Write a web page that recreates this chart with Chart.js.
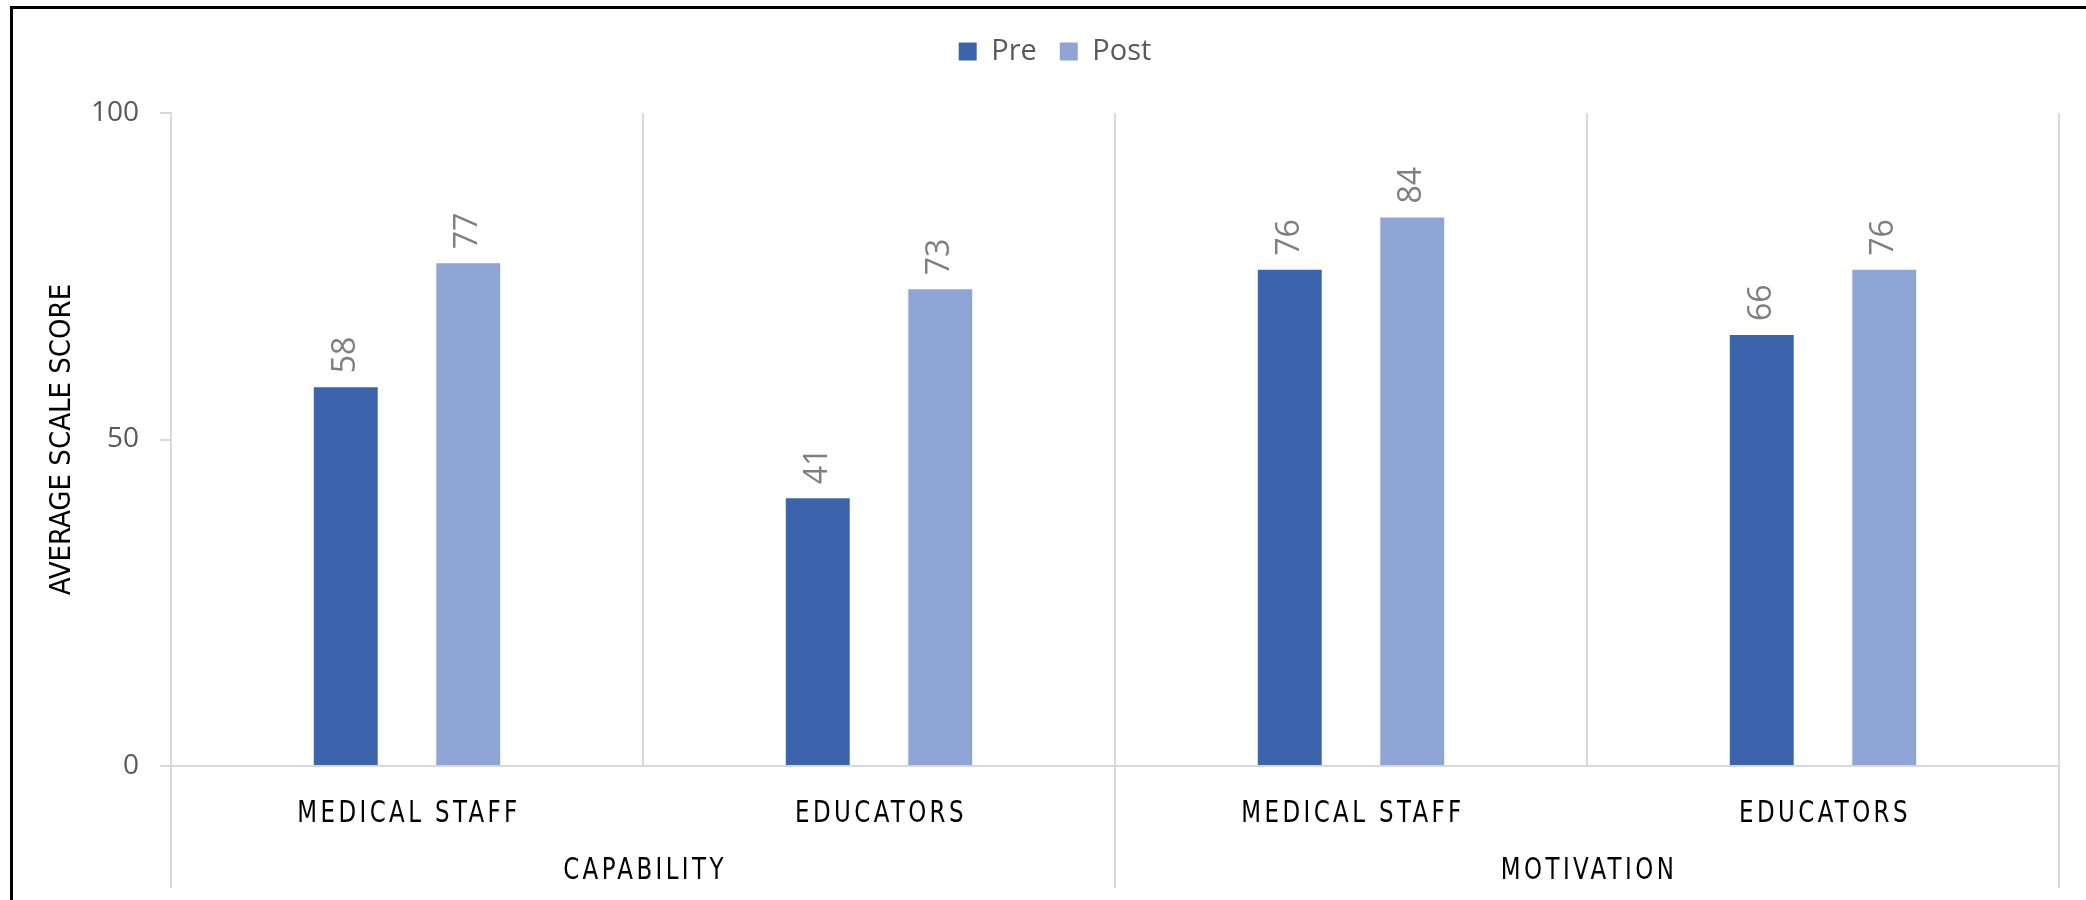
<!DOCTYPE html>
<html>
<head>
<meta charset="utf-8">
<script src="https://cdn.jsdelivr.net/npm/chart.js@4/dist/chart.umd.min.js"></script>
<style>
    html, body { margin: 0; padding: 0; background: #fff; overflow: hidden; }
    #wrap { position: relative; width: 2086px; height: 900px; }
    #frame { position: absolute; left: 10px; top: 6px; width: 2200px; height: 1000px; border: 3px solid #000; box-sizing: border-box; pointer-events: none; }
    canvas { position: absolute; left: 0; top: 0; }
</style>
</head>
<body>
<div id="wrap">
    <canvas id="scoreChart" width="2086" height="900"></canvas>
    <div id="frame"></div>
</div>
<script>
/* Pre / post average scale scores */

const groups = ['CAPABILITY', 'MOTIVATION'];
const groupSizes = [2, 2];
const categories = ['MEDICAL STAFF', 'EDUCATORS', 'MEDICAL STAFF', 'EDUCATORS'];
const preScores = [58, 41, 76, 66];
const postScores = [77, 73, 84, 76];
const yTicks = [0, 50, 100];

const NARROW = '"Liberation Sans Narrow", "DejaVu Sans Condensed", "Open Sans", sans-serif';
const ROUND = '"Open Sans", "Noto Sans", sans-serif';
const GRID = '#d9d9d9';

// extra room between the legend and the plot
const legendGap = {
    id: 'legendGap',
    beforeInit(chart) {
        const fit = chart.legend.fit;
        chart.legend.fit = function () {
            fit.bind(chart.legend)();
            this.height += 37;
        };
    }
};

// value labels written vertically above each bar
const barLabels = {
    id: 'barLabels',
    afterDatasetsDraw(chart) {
        const ctx = chart.ctx;
        ctx.save();
        ctx.font = `32px ${ROUND}`;
        ctx.fillStyle = '#7f7f7f';
        ctx.textAlign = 'left';
        ctx.textBaseline = 'middle';
        chart.data.datasets.forEach((ds, di) => {
            chart.getDatasetMeta(di).data.forEach((bar, i) => {
                ctx.save();
                ctx.translate(bar.x, bar.y - 14);
                ctx.rotate(-Math.PI / 2);
                ctx.fillText(String(ds.data[i]), 0, 0);
                ctx.restore();
            });
        });
        ctx.restore();
    }
};

function narrowText(ctx, text, x, y) {
    ctx.save();
    ctx.translate(x, y);
    ctx.scale(0.85, 1);
    ctx.fillText(text, 0, 0);
    ctx.restore();
}

// category labels, group labels and the long group separators under the axis
const groupAxis = {
    id: 'groupAxis',
    afterDraw(chart) {
        const { ctx, chartArea } = chart;
        const x = chart.scales.x;
        const half = (x.getPixelForValue(1) - x.getPixelForValue(0)) / 2;
        const bottom = chartArea.bottom;

        ctx.save();
        ctx.fillStyle = '#000';
        ctx.textAlign = 'center';
        ctx.textBaseline = 'middle';
        ctx.font = `30px ${NARROW}`;
        ctx.letterSpacing = '4px';
        categories.forEach((c, i) => {
            narrowText(ctx, c, x.getPixelForValue(i) + 2, bottom + 48);
        });

        ctx.strokeStyle = GRID;
        ctx.lineWidth = 2;
        let start = 0;
        groups.forEach((g, gi) => {
            const left = x.getPixelForValue(start) - half;
            const right = x.getPixelForValue(start + groupSizes[gi] - 1) + half;
            narrowText(ctx, g, (left + right) / 2 + 2, bottom + 105);
            [left, right].forEach(px => {
                ctx.beginPath();
                ctx.moveTo(px, bottom);
                ctx.lineTo(px, bottom + 122);
                ctx.stroke();
            });
            start += groupSizes[gi];
        });
        ctx.restore();
    }
};

const ctx = document.getElementById('scoreChart').getContext('2d');

new Chart(ctx, {
    type: 'bar',
    data: {
        labels: categories,
        datasets: [
            {
                label: 'Pre',
                data: preScores,
                backgroundColor: '#3b64ad',
                categoryPercentage: 0.519,
                barPercentage: 0.522
            },
            {
                label: 'Post',
                data: postScores,
                backgroundColor: '#8fa5d5',
                categoryPercentage: 0.519,
                barPercentage: 0.522
            }
        ]
    },
    options: {
        responsive: false,
        animation: false,
        devicePixelRatio: 1,
        layout: {
            padding: { left: 51, right: 27, top: 14, bottom: 0 }
        },
        plugins: {
            tooltip: { enabled: false },
            legend: {
                position: 'top',
                labels: {
                    boxWidth: 18,
                    boxHeight: 18,
                    padding: 23,
                    color: '#595959',
                    font: { family: ROUND, size: 29 }
                }
            }
        },
        scales: {
            x: {
                ticks: { display: false },
                grid: {
                    offset: true,
                    color: GRID,
                    lineWidth: 2,
                    drawTicks: false
                },
                border: { color: GRID, width: 2 },
                afterFit: s => { s.height = 134; }
            },
            y: {
                min: 0,
                max: 100,
                afterBuildTicks: s => { s.ticks = yTicks.map(v => ({ value: v })); },
                ticks: {
                    color: '#595959',
                    padding: 21,
                    font: { family: ROUND, size: 28 }
                },
                grid: {
                    drawOnChartArea: false,
                    color: GRID,
                    lineWidth: 2,
                    tickLength: 11
                },
                border: { color: GRID, width: 2 },
                title: {
                    display: true,
                    text: 'AVERAGE SCALE SCORE',
                    color: '#000',
                    padding: 0,
                    font: { family: NARROW, size: 29, lineHeight: 0.8 }
                },
                afterFit: s => { s.width = 120; }
            }
        }
    },
    plugins: [legendGap, barLabels, groupAxis]
});
</script>
</body>
</html>
